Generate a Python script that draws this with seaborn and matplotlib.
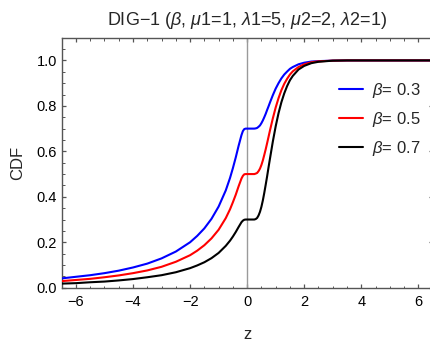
import matplotlib
matplotlib.use("Agg")
import matplotlib.pyplot as plt
import seaborn as sns
import pandas as pd
from matplotlib.ticker import MultipleLocator

# values
z_vals = [-6.5, -6.0, -5.5, -5.0, -4.5, -4.0, -3.5, -3.0, -2.5, -2.0, -1.75, -1.5,
          -1.25, -1.0, -0.75, -0.6, -0.5, -0.4, -0.3, -0.2, -0.15, -0.1, -0.05, 0.0,
          0.1, 0.2, 0.25, 0.3, 0.35, 0.4, 0.45, 0.5, 0.55, 0.6, 0.65, 0.7, 0.75, 0.8,
          0.9, 1.0, 1.1, 1.2, 1.3, 1.4, 1.5, 1.6, 1.8, 2.0, 2.25, 2.5, 3.0, 3.5, 4.0,
          5.0, 6.5]

cdf_b03 = [0.041, 0.048, 0.055, 0.064, 0.075, 0.089, 0.106, 0.129, 0.159, 0.200, 0.228, 0.261,
           0.303, 0.357, 0.428, 0.483, 0.526, 0.573, 0.624, 0.671, 0.689, 0.698, 0.700, 0.700,
           0.700, 0.700, 0.700, 0.701, 0.703, 0.708, 0.714, 0.724, 0.736, 0.750, 0.765, 0.782, 0.798, 0.815,
           0.847, 0.876, 0.900, 0.921, 0.938, 0.951, 0.963, 0.971, 0.983, 0.990, 0.995, 0.997, 0.999, 1.0, 1.0,
           1.0, 1.0]
cdf_b05 = [0.029, 0.034, 0.039, 0.046, 0.054, 0.064, 0.076, 0.092, 0.114, 0.143, 0.163, 0.187,
           0.217, 0.255, 0.306, 0.345, 0.376, 0.409, 0.446, 0.480, 0.492, 0.499, 0.500, 0.500,
           0.500, 0.500, 0.500, 0.502, 0.505, 0.513, 0.524, 0.540, 0.560, 0.584, 0.609, 0.636, 0.664, 0.692,
           0.745, 0.793, 0.834, 0.869, 0.897, 0.919, 0.938, 0.952, 0.971, 0.983, 0.992, 0.996, 0.999, 1.0, 1.0,
           1.0, 1.0]
cdf_b07 = [0.018, 0.020, 0.024, 0.027, 0.032, 0.038, 0.046, 0.055, 0.068, 0.086, 0.098, 0.112,
           0.130, 0.153, 0.184, 0.207, 0.225, 0.245, 0.267, 0.288, 0.295, 0.299, 0.300, 0.300,
           0.300, 0.300, 0.300, 0.302, 0.307, 0.318, 0.334, 0.356, 0.384, 0.417, 0.453, 0.490, 0.530, 0.568,
           0.643, 0.710, 0.768, 0.816, 0.855, 0.887, 0.913, 0.932, 0.960, 0.976, 0.988, 0.994, 0.999, 1.0, 1.0,
           1.0, 1.0]

series_labels = [r"$\beta$= 0.3", r"$\beta$= 0.5", r"$\beta$= 0.7"]
series_colors = ["#0000ff", "#ff0000", "#000000"]

df = pd.concat([
    pd.DataFrame({"z": z_vals, "CDF": vals, "series": lab})
    for vals, lab in zip([cdf_b03, cdf_b05, cdf_b07], series_labels)
], ignore_index=True)

sns.set_style("ticks")
plt.rcParams["font.family"] = ["Liberation Sans", "DejaVu Sans"]
plt.rcParams["mathtext.fontset"] = "custom"
plt.rcParams["mathtext.rm"] = "Liberation Sans"
plt.rcParams["mathtext.it"] = "Liberation Sans:italic"
plt.rcParams["mathtext.bf"] = "Liberation Sans:bold"

W, H = 430, 341
fig = plt.figure(figsize=(W / 100, H / 100), dpi=100)
ax_l, ax_r, ax_t, ax_b = 61.7, 432.6, 37.7, 287.7
ax = fig.add_axes([ax_l / W, 1 - ax_b / H, (ax_r - ax_l) / W, (ax_b - ax_t) / H])

ax.axvline(0, color="#9a9a9a", lw=1.0, zorder=1)

sns.lineplot(data=df, x="z", y="CDF", hue="series", palette=series_colors,
             hue_order=series_labels, lw=1.5, ax=ax, legend=True, zorder=3)

ax.set_xlim(-6.5, 6.5)
ax.set_ylim(0, 1.1)
ax.xaxis.set_major_locator(MultipleLocator(2))
ax.xaxis.set_minor_locator(MultipleLocator(0.5))
ax.yaxis.set_major_locator(MultipleLocator(0.2))
ax.yaxis.set_minor_locator(MultipleLocator(0.05))
yt = [0.0, 0.2, 0.4, 0.6, 0.8, 1.0]
ax.set_yticks(yt)
ax.set_yticklabels([f"{v:.1f}" for v in yt])
ax.set_xticks([-6, -4, -2, 0, 2, 4, 6])
ax.set_xticklabels(["\u22126", "\u22124", "\u22122", "0", "2", "4", "6"])

frame_c = "#555555"
for s in ax.spines.values():
    s.set_visible(True)
    s.set_color(frame_c)
    s.set_linewidth(1.0)
ax.tick_params(which="both", direction="in", top=True, right=True, bottom=True, left=True,
               colors=frame_c, labelcolor="black", labelsize=10.5)
ax.tick_params(which="major", length=3.0, width=0.9)
ax.tick_params(which="minor", length=1.8, width=0.7)
ax.tick_params(axis="x", pad=5)

ax.set_xlabel("z", fontsize=12, labelpad=13)
ax.set_ylabel("CDF", fontsize=12, labelpad=8)
ax.set_title(r"DIG$-$1 ($\beta$, $\mu$1=1, $\lambda$1=5, $\mu$2=2, $\lambda$2=1)",
             fontsize=13, pad=9)

leg = ax.legend(loc="upper left", bbox_to_anchor=(0.724, 0.862), frameon=False,
                fontsize=12, handlelength=1.48, handletextpad=0.54, labelspacing=0.62,
                borderpad=0)
for line in leg.get_lines():
    line.set_linewidth(1.5)

fig.savefig("out.png", dpi=100)
